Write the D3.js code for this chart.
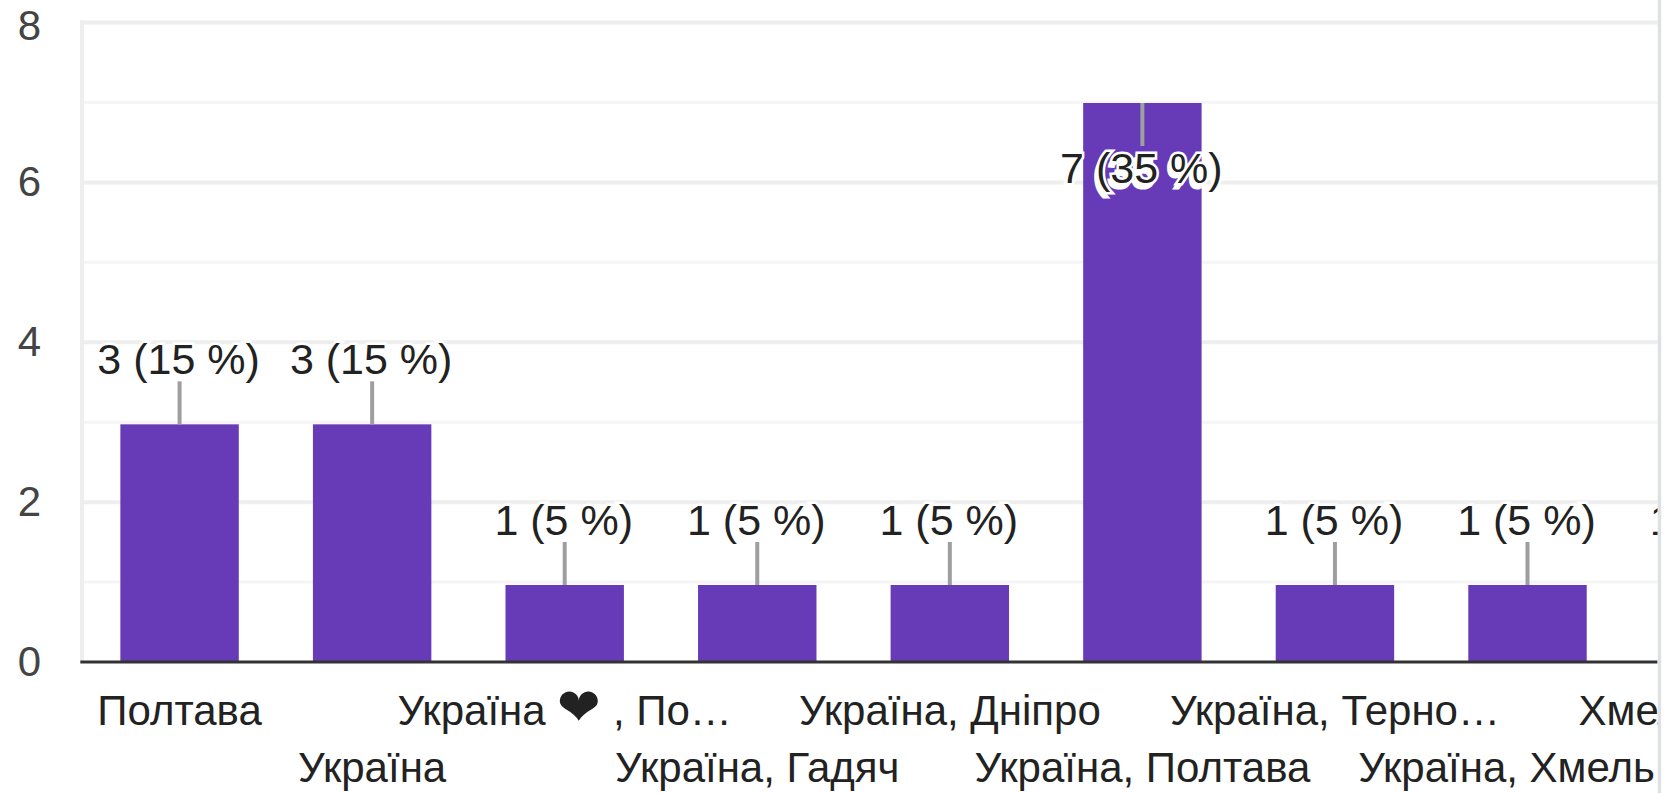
<!DOCTYPE html>
<html>
<head>
	<meta charset="utf-8">
	<script src="https://d3js.org/d3.v7.min.js"></script>
	<style>
		html, body { margin: 0; padding: 0; background: #fff; }
		text { font-family: "Liberation Sans", Arial, sans-serif; }
		.domain { display: none; }
	</style>
</head>
<body>
	<div class="chart"></div>
	<script>
		// values
		var categories = ["Полтава", "Україна", "Україна ❤ , По…", "Україна, Гадяч", "Україна, Дніпро",
			"Україна, Полтава", "Україна, Терно…", "Україна, Хмель…", "Хмельницький"];
		var counts = [3, 3, 1, 1, 1, 7, 1, 1, 1];
		var percents = [15, 15, 5, 5, 5, 35, 5, 5, 5];
		var majorTicks = [0, 2, 4, 6, 8];
		var minorTicks = [1, 3, 5, 7];

		var w = 1674, h = 793;
		var left = 83.3, clipRight = 1657.7, top_ = 22.5, bottom = 662;
		var step = 192.56;
		var fontSize = 42;
		var valueSize = 43;

		var svg = d3.select(".chart")
			.append("svg")
			.attr("width", w)
			.attr("height", h)
			.style("display", "block");

		svg.append("clipPath")
			.attr("id", "plot-clip")
			.append("rect")
			.attr("x", 0)
			.attr("y", 0)
			.attr("width", clipRight)
			.attr("height", h);

		var x = d3.scaleBand()
			.domain(categories)
			.range([left, left + step * categories.length])
			.paddingInner(0.385)
			.paddingOuter(0.1925);

		var y = d3.scaleLinear()
			.domain([0, 8])
			.range([bottom, top_]);

		// the bar tops sit a little below the grid lines in the picture
		var yBar = d3.scaleLinear()
			.domain([1, 7])
			.range([585, 103]);

		var g = svg.append("g").attr("clip-path", "url(#plot-clip)");

		// grid
		g.selectAll(".minor")
			.data(minorTicks)
			.enter()
			.append("line")
			.attr("class", "minor")
			.attr("x1", left - 3)
			.attr("x2", clipRight)
			.attr("y1", function(d) { return y(d); })
			.attr("y2", function(d) { return y(d); })
			.attr("stroke", "#f5f5f5")
			.attr("stroke-width", 3);

		g.selectAll(".major")
			.data(majorTicks.slice(1))
			.enter()
			.append("line")
			.attr("class", "major")
			.attr("x1", left - 3)
			.attr("x2", clipRight)
			.attr("y1", function(d) { return y(d); })
			.attr("y2", function(d) { return y(d); })
			.attr("stroke", "#eeeeee")
			.attr("stroke-width", 4);

		g.append("line")
			.attr("x1", left - 1.3)
			.attr("x2", left - 1.3)
			.attr("y1", y(8) - 2)
			.attr("y2", y(0))
			.attr("stroke", "#eeeeee")
			.attr("stroke-width", 4);

		// bars
		g.selectAll(".bar")
			.data(counts)
			.enter()
			.append("rect")
			.attr("class", "bar")
			.attr("x", function(d, i) { return x(categories[i]); })
			.attr("y", function(d) { return yBar(d); })
			.attr("width", x.bandwidth())
			.attr("height", function(d) { return y(0) - yBar(d); })
			.attr("fill", "#673ab7");

		// leader lines, the tallest bar has its label inside
		function inside(d) { return d >= 7; }
		function mid(i) { return x(categories[i]) + x.bandwidth() / 2; }
		function labelY(d) { return yBar(d) + (inside(d) ? 80 : -50); }
		function labelText(d, i) { return d + " (" + percents[i] + " %)"; }

		g.selectAll(".leader")
			.data(counts)
			.enter()
			.append("line")
			.attr("class", "leader")
			.attr("x1", function(d, i) { return mid(i); })
			.attr("x2", function(d, i) { return mid(i); })
			.attr("y1", function(d) { return yBar(d); })
			.attr("y2", function(d) { return yBar(d) + (inside(d) ? 43 : -43); })
			.attr("stroke", "#9e9e9e")
			.attr("stroke-width", 4);

		// white ghost under the label that lands on a bar
		g.selectAll(".ghost")
			.data(counts)
			.enter()
			.filter(function(d) { return inside(d); })
			.append("text")
			.attr("class", "ghost")
			.attr("x", function(d) { return mid(counts.indexOf(d)) - 4; })
			.attr("y", function(d) { return labelY(d) + 5; })
			.attr("text-anchor", "middle")
			.attr("font-size", valueSize)
			.attr("fill", "#fff")
			.attr("stroke", "#fff")
			.attr("stroke-width", 3)
			.text(function(d) { return labelText(d, counts.indexOf(d)); });

		g.selectAll(".value")
			.data(counts)
			.enter()
			.append("text")
			.attr("class", "value")
			.attr("x", function(d, i) { return mid(i) - 1; })
			.attr("y", labelY)
			.attr("text-anchor", "middle")
			.attr("font-size", valueSize)
			.attr("fill", "#222")
			.attr("stroke", "#fff")
			.attr("stroke-width", 5)
			.attr("paint-order", "stroke")
			.text(labelText);

		// baseline
		g.append("line")
			.attr("x1", left - 3)
			.attr("x2", clipRight)
			.attr("y1", y(0))
			.attr("y2", y(0))
			.attr("stroke", "#333")
			.attr("stroke-width", 3);

		// y axis numbers
		var yAxis = svg.append("g")
			.attr("transform", "translate(41,0)")
			.call(d3.axisLeft(y).tickValues(majorTicks).tickSize(0).tickPadding(0));
		yAxis.selectAll("text")
			.attr("font-size", fontSize)
			.attr("fill", "#444")
			.attr("y", function(d) { return d === 8 ? 4 : 0; });

		// x labels sit on two alternating rows
		var xAxis = g.append("g")
			.attr("transform", "translate(0," + bottom + ")")
			.call(d3.axisBottom(x).tickSize(0).tickPadding(0));
		xAxis.selectAll("text")
			.attr("font-size", fontSize)
			.attr("fill", "#222")
			.attr("dy", null)
			.attr("y", function(d, i) { return i % 2 ? 120 : 63; });

		// the heart is drawn bigger than the letters around it
		xAxis.selectAll("text")
			.filter(function(d) { return d.indexOf("❤") >= 0; })
			.each(function(d) {
				var t = d3.select(this).text("");
				var parts = d.split("❤");
				t.append("tspan").text(parts[0]);
				t.append("tspan").attr("font-size", 52).text("❤");
				t.append("tspan").text(parts[1]);
			});

		// grey strip along the clipped edge
		svg.append("rect")
			.attr("x", clipRight)
			.attr("y", 0)
			.attr("width", 3.5)
			.attr("height", h)
			.attr("fill", "#dfe0e4");
	</script>
</body>
</html>
